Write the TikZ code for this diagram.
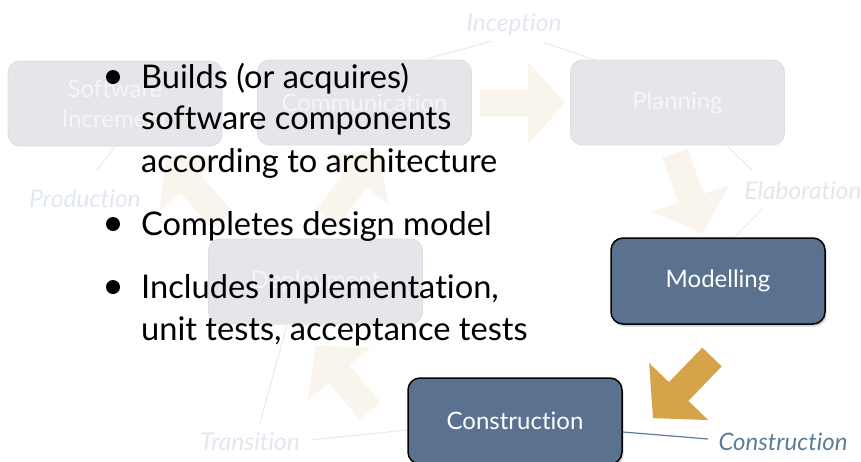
\documentclass[tikz,border=0pt]{standalone}
\usepackage{fontspec}
\setmainfont{Lato}[RawFeature={-liga;-dlig;-clig}]
\usetikzlibrary{shadows}
\definecolor{faintbox}{RGB}{229,230,234}
\definecolor{faintedge}{RGB}{219,220,225}
\definecolor{fainttext}{RGB}{246,246,248}
\definecolor{faintarrow}{RGB}{250,245,236}
\definecolor{goldarrow}{RGB}{213,164,74}
\definecolor{darkbox}{RGB}{90,113,144}
\definecolor{phaselbl}{RGB}{226,231,239}
\definecolor{phaseline}{RGB}{230,234,241}
\definecolor{activelbl}{RGB}{94,124,152}
\tikzset{
  ghostbox/.style={rounded corners=12pt, fill=faintbox, draw=faintedge, line width=0.8pt,
    minimum width=214pt, minimum height=85pt, text=fainttext, align=center, inner sep=0pt,
    font=\fontsize{24}{30}\selectfont},
  activebox/.style={rounded corners=12pt, fill=darkbox, draw=black, line width=1.5pt,
    minimum width=214pt, minimum height=86pt, text=white, align=center, inner sep=0pt,
    font=\fontsize{24}{30}\selectfont,
    drop shadow={shadow xshift=1.5pt, shadow yshift=-2.5pt, opacity=0.35}},
  phase/.style={font=\itshape\fontsize{24.5}{29}\selectfont, text=phaselbl, inner sep=0pt},
  activephase/.style={phase, font=\itshape\fontsize{24}{29}\selectfont, text=activelbl},
  phaselink/.style={draw=phaseline, line width=1pt},
  activelink/.style={draw=activelbl, line width=1.2pt},
  bullettext/.style={font=\fontsize{32.6}{40}\selectfont, anchor=base west, inner sep=0pt},
  bulletdot/.style={circle, fill=black, minimum size=14pt, inner sep=0pt},
}
\newcommand{\blockarr}[3]{%
  \fill[#3, shift={(#1)}, rotate=#2] (0pt,-13.5pt) -- (48pt,-13.5pt) -- (48pt,-41pt)
    -- (85pt,0pt) -- (48pt,41pt) -- (48pt,13.5pt) -- (0pt,13.5pt) -- cycle;}
\begin{document}
\begin{tikzpicture}[x=1pt, y=-1pt]
\useasboundingbox (0,0) rectangle (861,461);
\clip (0,0) rectangle (861,461);
% phase connector lines
\coordinate (i1) at (427,59); \coordinate (i2) at (492,41);
\coordinate (i3) at (543,42); \coordinate (i4) at (603,63);
\coordinate (e1) at (727,146); \coordinate (e2) at (753,171);
\coordinate (e3) at (763,208); \coordinate (e4) at (735,237);
\coordinate (p1) at (115,147); \coordinate (p2) at (97,170);
\coordinate (t1) at (287,325); \coordinate (t2) at (260,423);
\coordinate (t3) at (310,440); \coordinate (t4) at (407,430);
\coordinate (c1) at (623,432); \coordinate (c2) at (708,439);
\draw[phaselink] (i1) -- (i2);
\draw[phaselink] (i3) -- (i4);
\draw[phaselink] (e1) -- (e2);
\draw[phaselink] (e3) -- (e4);
\draw[phaselink] (p1) -- (p2);
\draw[phaselink] (t1) -- (t2);
\draw[phaselink] (t3) -- (t4);
% faded boxes
\node[ghostbox] (inc) at (115,103.5) {Software\\Increment};
\node[ghostbox] (comm) at (364.5,102.5) {Communication};
\node[ghostbox] (plan) at (677.5,102.5) {Planning};
\node[ghostbox] (depl) at (315.5,281.5) {Deployment};
% faded arrows
\coordinate (a1) at (480,103);
\coordinate (a2) at (675,153);
\coordinate (a4) at (370,411);
\coordinate (a5) at (222,220);
\coordinate (a6) at (327,218);
\blockarr{a1}{0}{faintarrow}
\blockarr{a2}{-70.7}{faintarrow}
\blockarr{a4}{129.7}{faintarrow}
\blockarr{a5}{131}{faintarrow}
\blockarr{a6}{53}{faintarrow}
% active boxes
\node[activebox] (model) at (718,281) {Modelling};
\node[activebox] (constr) at (515,421) {Construction};
\coordinate (a3) at (712,357);
\blockarr{a3}{-134}{goldarrow}
\draw[activelink] (c1) -- (c2);
% phase labels
\node[phase] (incep) at (514,25) {Inception};
\node[phase] (elab) at (803,191) {Elaboration};
\node[phase] (prod) at (85,199) {Production};
\node[phase] (trans) at (250,442) {Transition};
\node[activephase] (constrp) at (783,442) {Construction};
% bullet text
\node[bulletdot] (b1) at (113,77) {};
\node[bulletdot] (b2) at (113,224) {};
\node[bulletdot] (b3) at (113,287) {};
\node[bullettext] (l1) at (141,88) {Builds (or acquires)};
\node[bullettext] (l2) at (141,129) {software components};
\node[bullettext] (l3) at (141,172) {according to architecture};
\node[bullettext] (l4) at (141,235) {Completes design model};
\node[bullettext] (l5) at (141,298) {Includes implementation,};
\node[bullettext] (l6) at (141,340) {unit tests, acceptance tests};
\end{tikzpicture}
\end{document}
